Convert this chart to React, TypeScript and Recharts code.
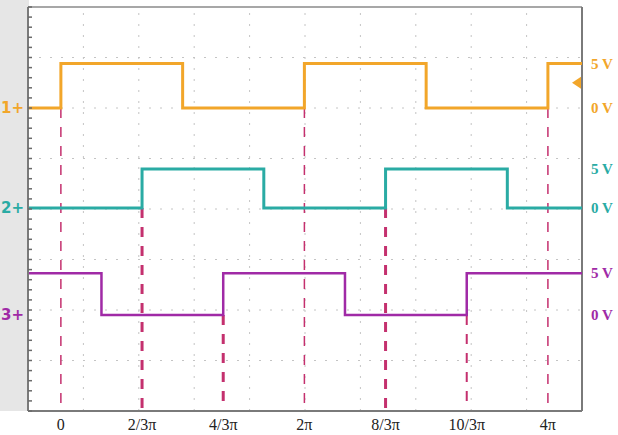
import {
  LineChart,
  Line,
  XAxis,
  YAxis,
  ReferenceLine,
  ReferenceDot,
} from "recharts";

// x in units of pi, y in scope divisions (0 = bottom, 8 = top)
const xDomain: [number, number] = [-0.27, 4.28];
const xTicks = [0, 2 / 3, 4 / 3, 2, 8 / 3, 10 / 3, 4];
const xTickLabels = ["0", "2/3π", "4/3π", "2π", "8/3π", "10/3π", "4π"];

// switching instants (x in pi) and logic state after each instant
const ch1Times = [-0.27, 0, 1, 2, 3, 4, 4.28];
const ch1States = [0, 1, 0, 1, 0, 1, 1];
const ch2Times = [-0.27, 2 / 3, 5 / 3, 8 / 3, 11 / 3, 4.28];
const ch2States = [0, 1, 0, 1, 0, 0];
const ch3Times = [-0.27, 1 / 3, 4 / 3, 7 / 3, 10 / 3, 4.28];
const ch3States = [1, 0, 1, 0, 1, 1];

// screen level (divisions) of 0 V and 5 V for each channel
const ch1Levels = [6.0, 6.88];
const ch2Levels = [4.02, 4.79];
const ch3Levels = [1.9, 2.73];

// dashed marker lines: x (pi), top end (div), width
const markerX = [0, 2 / 3, 4 / 3, 2, 8 / 3, 10 / 3, 4];
const markerTop = [6.0, 4.02, 1.9, 6.0, 4.02, 1.9, 6.0];
const markerWidth = [1.5, 3, 3, 1.5, 3, 2, 1.5];

const ORANGE = "#F2A62A";
const TEAL = "#2AABA4";
const PURPLE = "#A02AA6";
const MARK = "#C4306E";

const toSeries = (times: number[], states: number[], levels: number[]) =>
  times.map((t, i) => ({ x: t, y: levels[states[i]] }));

const gridX = Array.from({ length: 9 }, (_, k) => xDomain[0] + ((k + 1) * (xDomain[1] - xDomain[0])) / 10);
const gridY = [1, 2, 3, 4, 5, 6, 7];
const minorY = Array.from({ length: 41 }, (_, k) => k * 0.2);

const channels = [
  { name: "1", data: toSeries(ch1Times, ch1States, ch1Levels), color: ORANGE, levels: ch1Levels, width: 3 },
  { name: "2", data: toSeries(ch2Times, ch2States, ch2Levels), color: TEAL, levels: ch2Levels, width: 3 },
  { name: "3", data: toSeries(ch3Times, ch3States, ch3Levels), color: PURPLE, levels: ch3Levels, width: 2.5 },
];

const serif = "'Liberation Serif', 'Times New Roman', serif";

const App = () => {
  return (
    <div style={{ position: "absolute", left: 0, top: 0, width: 618, height: 435, background: "#fff" }}>
      <div style={{ position: "absolute", left: 0, top: 0, width: 29, height: 411, background: "#e6e6e6" }} />
      <div style={{ position: "absolute", left: 0, top: 0 }}>
        <LineChart width={618} height={435} margin={{ top: 7, right: 36, left: 28, bottom: 0 }}>
          <XAxis
            type="number"
            dataKey="x"
            domain={xDomain}
            ticks={xTicks}
            interval={0}
            tickFormatter={(v: number) => xTickLabels[xTicks.findIndex((t) => Math.abs(t - v) < 1e-6)] ?? ""}
            allowDataOverflow
            height={24}
            axisLine={{ stroke: "#7a7a7a", strokeWidth: 2 }}
            tickLine={false}
            tick={{ fill: "#222", fontSize: 16, fontFamily: serif }}
            tickMargin={2}
          />
          <YAxis
            type="number"
            domain={[0, 8]}
            ticks={minorY}
            interval={0}
            width={1}
            mirror
            tick={() => <g />}
            tickSize={4}
            axisLine={{ stroke: "#7a7a7a", strokeWidth: 2 }}
            tickLine={{ stroke: "#6a6a6a", strokeWidth: 1.5 }}
          />

          {gridX.map((gx, i) => (
            <ReferenceLine key={`gx-${i}`} x={gx} stroke="#c4c4c4" strokeDasharray="2 9" />
          ))}
          {gridY.map((gy, i) => (
            <ReferenceLine key={`gy-${i}`} y={gy} stroke="#c4c4c4" strokeDasharray="2 9" />
          ))}
          <ReferenceLine y={8} stroke="#8a8a8a" strokeWidth={1.5} />
          <ReferenceLine x={xDomain[1]} stroke="#7a7a7a" strokeWidth={2} />

          {markerX.map((mx, i) => (
            <ReferenceLine
              key={`mk-${i}`}
              segment={[
                { x: mx, y: markerTop[i] },
                { x: mx, y: 0 },
              ]}
              stroke={MARK}
              strokeWidth={markerWidth[i]}
              strokeDasharray="10 9"
            />
          ))}

          {channels.map((ch) => (
            <Line
              key={ch.name}
              data={ch.data}
              dataKey="y"
              type="stepAfter"
              stroke={ch.color}
              strokeWidth={ch.width}
              dot={false}
              isAnimationActive={false}
            />
          ))}

          {channels.map((ch) => (
            <ReferenceLine
              key={`lbl-${ch.name}`}
              y={ch.levels[0]}
              stroke="none"
              label={{
                value: `${ch.name}+`,
                position: "left",
                offset: 4,
                fill: ch.color,
                fontSize: 15,
                fontWeight: "bold",
                fontFamily: "'DejaVu Sans', sans-serif",
              }}
            />
          ))}
          {channels.map((ch) =>
            ch.levels.map((lv, j) => (
              <ReferenceLine
                key={`v-${ch.name}-${j}`}
                y={lv}
                stroke="none"
                label={{
                  value: j === 0 ? "0 V" : "5 V",
                  position: "right",
                  offset: 9,
                  fill: ch.color,
                  fontSize: 15,
                  fontWeight: "bold",
                  fontFamily: serif,
                }}
              />
            ))
          )}

          <ReferenceDot
            x={xDomain[1]}
            y={6.5}
            r={5}
            ifOverflow="visible"
            shape={(p: { cx?: number; cy?: number }) => {
              const cx = (p.cx ?? 0) - 1;
              const cy = p.cy ?? 0;
              return <polygon points={`${cx - 9},${cy} ${cx},${cy - 6} ${cx},${cy + 6}`} fill={ORANGE} />;
            }}
          />
        </LineChart>
      </div>
    </div>
  );
};

export default App;
